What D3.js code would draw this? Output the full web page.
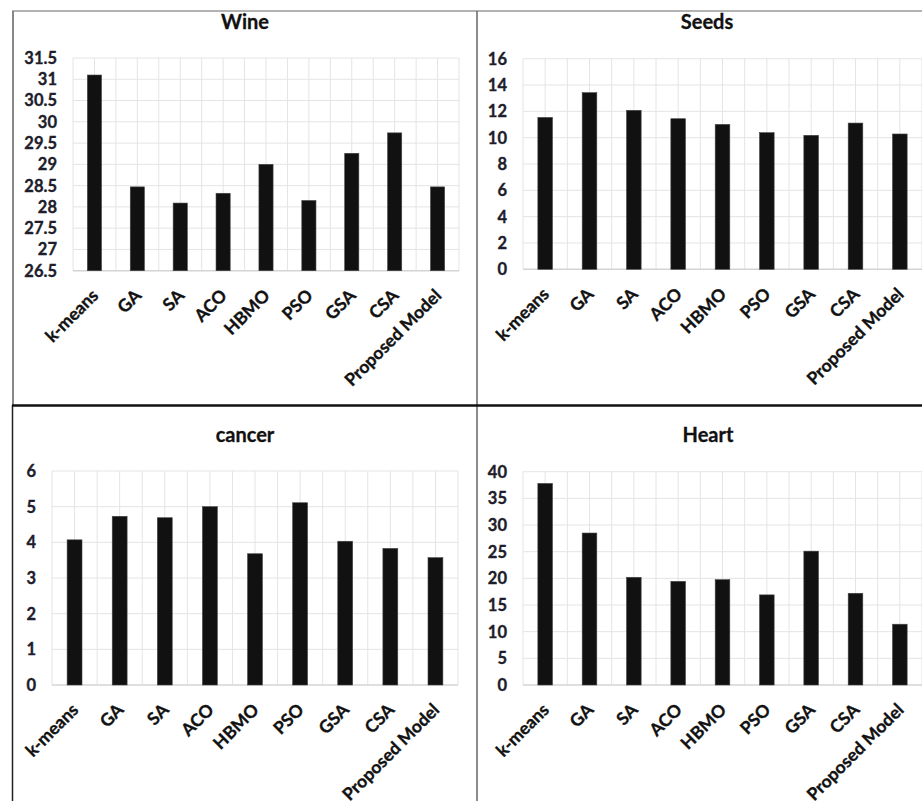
<!DOCTYPE html>
<html lang="en">
<head>
    <meta charset="UTF-8">
    <title>Clustering comparison</title>
    <script src="https://d3js.org/d3.v7.min.js"></script>
    <style>
        body{
            margin: 0;
            background: #fff;
        }
        svg{
            display: block;
        }
        text{
            font-family: Lato, "Open Sans", sans-serif;
            font-weight: bold;
        }
        .tick-label{
            font-size: 16.5px;
            fill: #1d1d2b;
            stroke: #1d1d2b;
            stroke-width: 0.35px;
        }
        .cat-label{
            font-size: 17.5px;
            fill: #111;
            stroke: #111;
            stroke-width: 0.35px;
        }
        .title{
            font-size: 20px;
            fill: #111;
            stroke: #111;
            stroke-width: 0.3px;
        }
    </style>
</head>
<body>
<script>

    const width = 922
    const height = 801

    // data
    const categories = ["k-means", "GA", "SA", "ACO", "HBMO", "PSO", "GSA", "CSA", "Proposed Model"]
    const wineValues = [31.1, 28.47, 28.09, 28.32, 29.0, 28.15, 29.26, 29.74, 28.47]
    const seedsValues = [11.54, 13.42, 12.08, 11.44, 11.01, 10.38, 10.18, 11.11, 10.28]
    const cancerValues = [4.07, 4.73, 4.69, 5.0, 3.68, 5.11, 4.03, 3.83, 3.57]
    const heartValues = [37.8, 28.5, 20.2, 19.44, 19.75, 16.9, 25.1, 17.2, 11.4]

    const wineTicks = [26.5, 27, 27.5, 28, 28.5, 29, 29.5, 30, 30.5, 31, 31.5]
    const seedsTicks = [0, 2, 4, 6, 8, 10, 12, 14, 16]
    const cancerTicks = [0, 1, 2, 3, 4, 5, 6]
    const heartTicks = [0, 5, 10, 15, 20, 25, 30, 35, 40]

    let svg = d3.select("body").append("svg")
                .attr("width", width)
                .attr("height", height)

    // panels: where each plot area sits
    const panels = [
        {title: "Wine",   values: wineValues,   ticks: wineTicks,   x0: 73,  x1: 459, y0: 58,  y1: 270.7, titleX: 245, titleY: 29},
        {title: "Seeds",  values: seedsValues,  ticks: seedsTicks,  x0: 523, x1: 922, y0: 58.7, y1: 269.3, titleX: 707, titleY: 29},
        {title: "cancer", values: cancerValues, ticks: cancerTicks, x0: 52,  x1: 458, y0: 471, y1: 685, titleX: 245, titleY: 441.5},
        {title: "Heart",  values: heartValues,  ticks: heartTicks,  x0: 523, x1: 922, y0: 471.7, y1: 685, titleX: 708, titleY: 441.5}
    ]

    panels.forEach(p => {
        let g = svg.append("g").attr("class", "panel")

        const x = d3.scaleBand()
                    .domain(categories)
                    .range([p.x0, p.x1])
                    .paddingInner(0.67)
                    .paddingOuter(0.335)

        const y = d3.scaleLinear()
                    .domain(d3.extent(p.ticks))
                    .range([p.y1, p.y0])

        const step = x.step()

        // vertical grid, every half category
        const vLines = d3.range(0, categories.length * 2 + 1).map(i => p.x0 + i * step / 2)
        g.append("g").selectAll("line")
            .data(vLines)
            .enter()
            .append("line")
            .attr("x1", d => d).attr("x2", d => d)
            .attr("y1", p.y0).attr("y2", p.y1)
            .attr("stroke", "#e4e4e4")
            .attr("stroke-width", 1)

        // horizontal grid at ticks
        g.append("g").selectAll("line")
            .data(p.ticks)
            .enter()
            .append("line")
            .attr("x1", p.x0).attr("x2", p.x1)
            .attr("y1", d => y(d)).attr("y2", d => y(d))
            .attr("stroke", (d, i) => i === 0 ? "#d4d4d4" : "#e4e4e4")
            .attr("stroke-width", (d, i) => i === 0 ? 1.5 : 1)

        // tick labels
        g.append("g").selectAll("text")
            .data(p.ticks)
            .enter()
            .append("text")
            .attr("class", "tick-label")
            .attr("x", p.x0 - 16)
            .attr("y", d => y(d))
            .attr("dy", "0.36em")
            .attr("text-anchor", "end")
            .text(d => d3.format("")(d))

        // bars
        g.append("g").selectAll("rect")
            .data(p.values)
            .enter()
            .append("rect")
            .attr("x", (d, i) => x(categories[i]))
            .attr("width", x.bandwidth())
            .attr("y", d => y(d))
            .attr("height", d => y(d3.min(p.ticks)) - y(d))
            .attr("fill", "#111")
            .attr("stroke", "#444")
            .attr("stroke-width", 0.6)

        // category labels, rotated
        g.append("g").selectAll("text")
            .data(categories)
            .enter()
            .append("text")
            .attr("class", "cat-label")
            .attr("text-anchor", "end")
            .attr("transform", d => {
                const cx = x(d) + x.bandwidth() / 2 + 5
                const cy = p.y1 + 26
                return `translate(${cx},${cy}) rotate(-45)`
            })
            .text(d => d)

        // title
        g.append("text")
            .attr("class", "title")
            .attr("x", p.titleX)
            .attr("y", p.titleY)
            .attr("text-anchor", "middle")
            .text(p.title)
    })

    // frame lines between the four charts
    let frame = svg.append("g").attr("class", "frame")
    frame.append("line").attr("x1", 12).attr("x2", width).attr("y1", 11).attr("y2", 11)
        .attr("stroke", "#999").attr("stroke-width", 1.5)
    frame.append("line").attr("x1", 13).attr("x2", 13).attr("y1", 11).attr("y2", 405)
        .attr("stroke", "#888").attr("stroke-width", 2)
    frame.append("line").attr("x1", 12.5).attr("x2", 12.5).attr("y1", 405).attr("y2", height)
        .attr("stroke", "#222").attr("stroke-width", 1.5)
    frame.append("line").attr("x1", 477).attr("x2", 477).attr("y1", 11).attr("y2", height)
        .attr("stroke", "#666").attr("stroke-width", 1.5)
    frame.append("line").attr("x1", 12).attr("x2", width).attr("y1", 405.5).attr("y2", 405.5)
        .attr("stroke", "#111").attr("stroke-width", 2.5)

</script>
</body>
</html>
